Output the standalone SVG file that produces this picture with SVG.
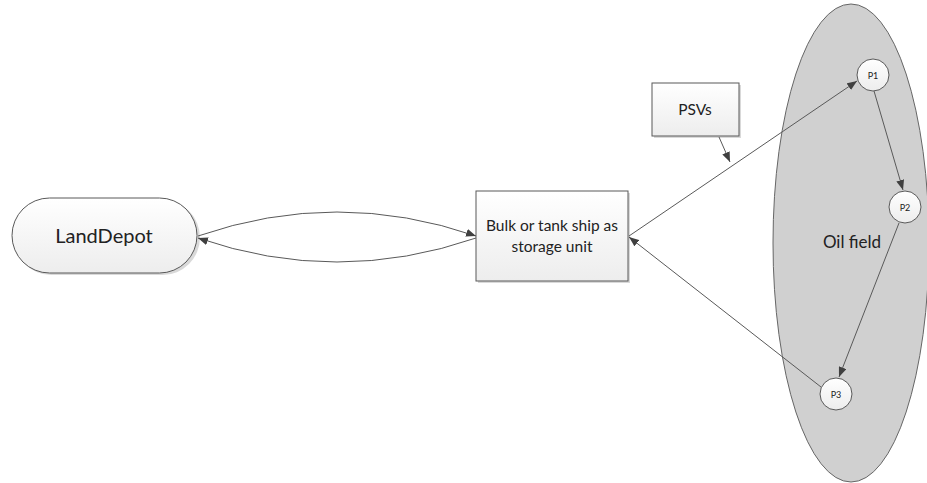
<svg xmlns="http://www.w3.org/2000/svg" width="927" height="483" viewBox="0 0 927 483">
<defs>
<linearGradient id="g" x1="0" y1="0" x2="0" y2="1">
<stop offset="0" stop-color="#ffffff"/>
<stop offset="1" stop-color="#ededed"/>
</linearGradient>
<marker id="ah" markerUnits="userSpaceOnUse" markerWidth="10" markerHeight="8" refX="10" refY="4" orient="auto" viewBox="0 0 10 8">
<path d="M0,0 L10,4 L0,8 z" fill="#404040"/>
</marker>
<style>
.box{fill:url(#g);stroke:#595959;stroke-width:1}
.sh{fill:#d9d9d9;stroke:none}
.t{font-family:Lato,"Open Sans","Liberation Sans",sans-serif;fill:#222;text-anchor:middle}
.c{stroke:#595959;stroke-width:1;fill:none;marker-end:url(#ah)}
</style>
</defs>
<g id="oilfield">
<ellipse cx="851" cy="243" rx="78" ry="239" fill="#d0d0d0" stroke="#666" stroke-width="1"/>
<text class="t" x="852" y="248" font-size="17">Oil field</text>
</g>
<g id="landdepot">
<rect class="sh" x="14" y="200" width="186" height="75" rx="37.5"/>
<rect class="box" x="12" y="198" width="185" height="75" rx="37.5"/>
<text class="t" x="104" y="243" font-size="20">LandDepot</text>
</g>
<g id="bulk">
<rect class="sh" x="478" y="193" width="152" height="90"/>
<rect class="box" x="476" y="191" width="152" height="90"/>
<text class="t" x="552" y="231" font-size="15.5">Bulk or tank ship as</text>
<text class="t" x="552" y="252" font-size="15.5">storage unit</text>
</g>
<g id="psvs">
<rect class="sh" x="654" y="85" width="87" height="53"/>
<rect class="box" x="652" y="83" width="87" height="53"/>
<text class="t" x="695" y="115" font-size="15.5">PSVs</text>
</g>
<g id="p1">
<circle class="box" cx="873" cy="75" r="16"/>
<text class="t" x="873" y="78.5" font-size="9">P1</text>
</g>
<g id="p2">
<circle class="box" cx="905" cy="207" r="16"/>
<text class="t" x="905" y="210.5" font-size="9">P2</text>
</g>
<g id="p3">
<circle class="box" cx="836" cy="394" r="16"/>
<text class="t" x="836" y="397.5" font-size="9">P3</text>
</g>
<g id="connectors">
<path class="c" d="M198,236 Q337,188 476,236"/>
<path class="c" d="M476,238 Q337,286 198,238"/>
<path class="c" d="M629,236 L857,81"/>
<path class="c" d="M821,387 L629,237"/>
<path class="c" d="M719,137 L730,162"/>
<path class="c" d="M874,91 L903,190"/>
<path class="c" d="M899,223 L839,377"/>
</g>
</svg>
